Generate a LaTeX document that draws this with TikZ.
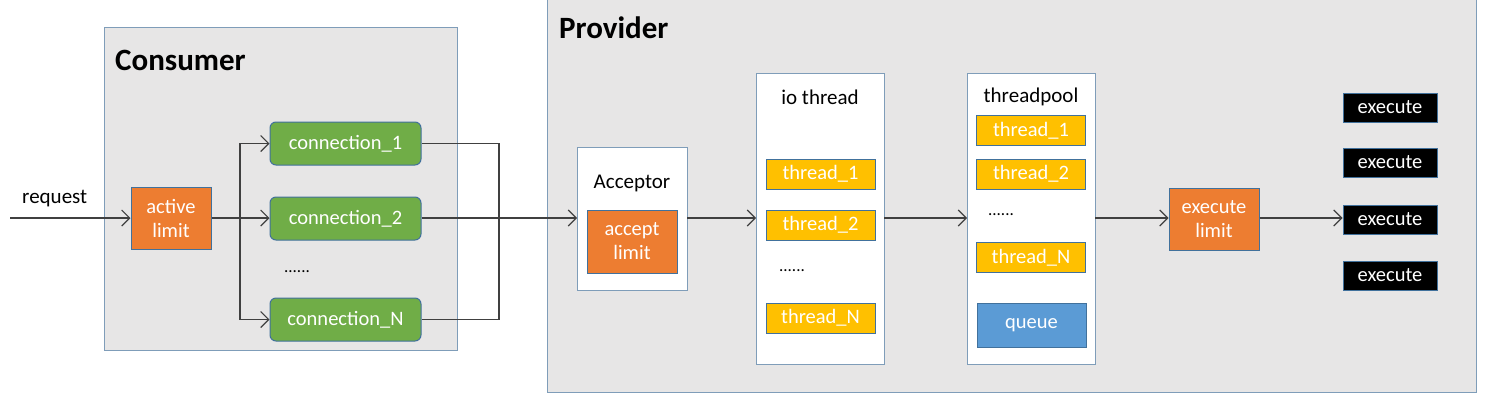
\documentclass[tikz,border=0pt]{standalone}
\usepackage{fontspec}
\setmainfont{Carlito}
\usetikzlibrary{arrows.meta}
\definecolor{bggray}{HTML}{E7E6E6}
\definecolor{contline}{HTML}{7F9DB9}
\definecolor{boxline}{HTML}{41719C}
\definecolor{orng}{HTML}{ED7D31}
\definecolor{grn}{HTML}{70AD47}
\definecolor{yel}{HTML}{FFC000}
\definecolor{blu}{HTML}{5B9BD5}
\definecolor{wire}{HTML}{404040}
\tikzset{
  container/.style={draw=contline, line width=1pt, fill=bggray},
  whitebox/.style={draw=contline, line width=1pt, fill=white},
  box/.style={draw=boxline, line width=1pt, inner sep=0pt, text=white, align=center,
    font=\fontsize{20.5}{24}\selectfont},
  limitbox/.style={box, fill=orng, minimum width=80pt, minimum height=62pt},
  connbox/.style={box, fill=grn, rounded corners=6pt, minimum width=151pt, minimum height=43pt},
  thbox/.style={box, fill=yel, minimum width=109pt, minimum height=30pt},
  exbox/.style={box, fill=black, minimum width=94pt, minimum height=29pt, font=\fontsize{20.5}{24}\selectfont},
  title/.style={font=\fontsize{31}{36}\selectfont\bfseries, anchor=west, inner sep=0pt},
  label/.style={font=\fontsize{21}{24}\selectfont, inner sep=0pt},
  dots/.style={font=\fontsize{17}{20}\selectfont, inner sep=0pt},
  arr/.style={draw=wire, line width=1.1pt, -{Straight Barb[length=8pt,width=16pt,line width=1.1pt]}},
  ln/.style={draw=wire, line width=1.1pt},
}
\begin{document}
\begin{tikzpicture}[x=1pt,y=-1pt]
\useasboundingbox (0,0) rectangle (1496,402);
\fill[white] (0,0) rectangle (1496,402);
% Consumer
\draw[container] (104,27) rectangle (457,350);
\node[title] (ctitle) at (115,60) {Consumer};
\node[limitbox] (act) at (171,218) {active\\limit};
\node[connbox] (c1) at (345.5,143.5) {connection\_1};
\node[connbox] (c2) at (345.5,218.5) {connection\_2};
\node[connbox] (cN) at (345.5,319.5) {connection\_N};
\node[dots] (cdots) at (297,272) {......};
\coordinate (reqstart) at (10,218);
\node[label, anchor=south west] (req) at (22,207) {request};
\coordinate (br) at (240,218);
\coordinate (mg) at (499,218);
% Provider
\draw[container] (547,-2) rectangle (1476,392);
\node[title] (ptitle) at (559,28) {Provider};
\draw[whitebox] (577,147) rectangle (687,290);
\node[label, text=black] (acctext) at (632,183) {Acceptor};
\node[limitbox, minimum width=90pt, minimum height=63pt] (acc) at (632,241.5) {accept\\limit};
\coordinate (accw) at (577,218);
\coordinate (acce) at (687,218);
% io thread
\draw[whitebox] (756,73) rectangle (884,364);
\coordinate (iow) at (756,218);
\coordinate (ioe) at (884,218);
\node[label] (iot) at (820,97) {io thread};
\node[thbox] (it1) at (820.5,174) {thread\_1};
\node[thbox] (it2) at (820.5,225) {thread\_2};
\node[dots] (idots) at (792,271) {......};
\node[thbox] (itN) at (820.5,318) {thread\_N};
% threadpool
\draw[whitebox] (967,73) rectangle (1095,364);
\coordinate (tpw) at (967,218);
\coordinate (tpe) at (1095,218);
\node[label] (tpt) at (1031,97) {threadpool};
\node[thbox] (t1) at (1031,130.5) {thread\_1};
\node[thbox] (t2) at (1031,174) {thread\_2};
\node[dots] (tdots) at (1001,215) {......};
\node[thbox] (tN) at (1031,257.5) {thread\_N};
\node[box, fill=blu, minimum width=109pt, minimum height=44pt] (q) at (1031.5,325) {queue};
% execute
\node[limitbox, minimum width=90pt] (exl) at (1214,219) {execute\\limit};
\node[exbox] (e1) at (1390,107.5) {execute};
\node[exbox] (e2) at (1390,162.5) {execute};
\node[exbox] (e3) at (1390,219.5) {execute};
\node[exbox] (e4) at (1390,275.5) {execute};
% connectors
\draw[arr] (reqstart) -- (act.west);
\draw[ln] (act.east) -- (br);
\draw[arr] (br) |- (c1.west);
\draw[arr] (br) -- (br -| c2.west);
\draw[arr] (br) |- (cN.west);
\draw[ln] (c1.east) -| (mg);
\draw[ln] (cN.east) -| (mg);
\draw[arr] (c2.east |- mg) -- (accw);
\draw[arr] (acce) -- (iow);
\draw[arr] (ioe) -- (tpw);
\draw[arr] (tpe) -- (exl.west |- tpe);
\draw[arr] (exl.east |- tpe) -- (e3.west |- tpe);
\end{tikzpicture}
\end{document}
